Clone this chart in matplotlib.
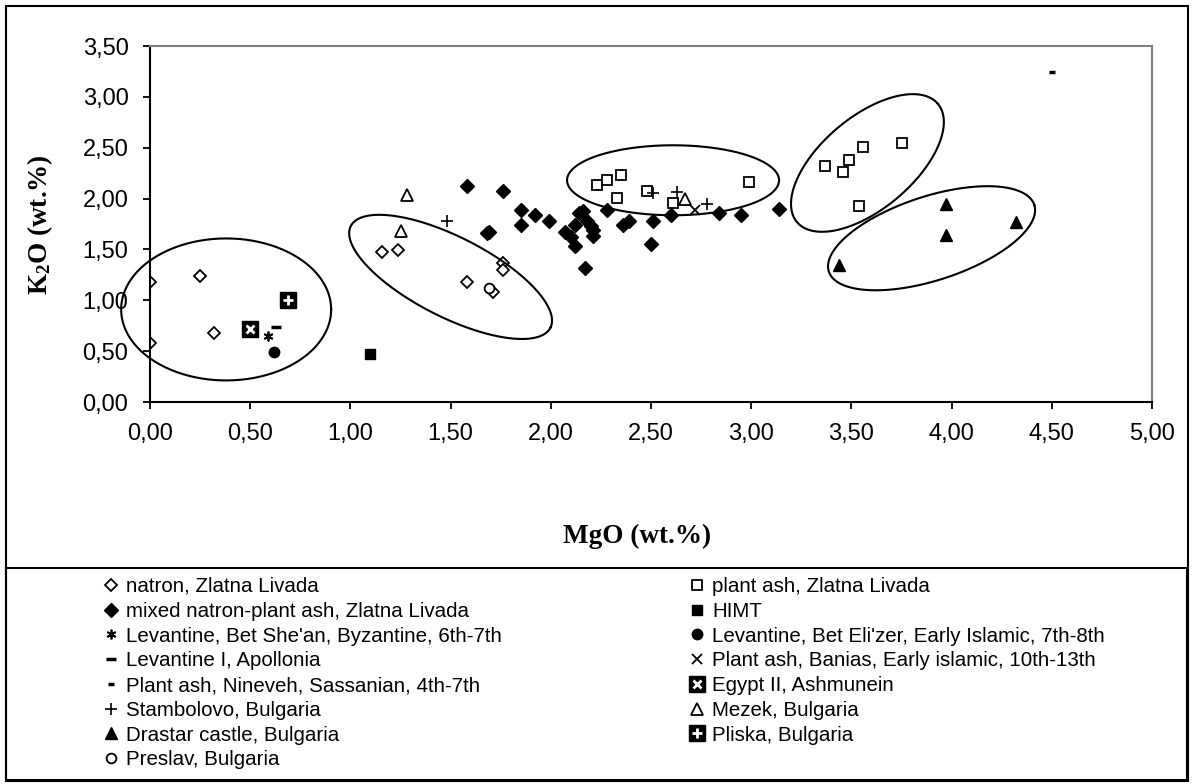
import numpy as np
import matplotlib.pyplot as plt
from matplotlib.patches import Rectangle

plt.rcParams['font.family'] = ['Liberation Sans', 'DejaVu Sans']
plt.rcParams['mathtext.fontset'] = 'custom'
plt.rcParams['mathtext.rm'] = 'Liberation Serif'
plt.rcParams['mathtext.bf'] = 'Liberation Serif:bold'

# MgO / K2O values (wt.%)
natron_mgo = [0.00, 0.00, 0.25, 0.32, 1.16, 1.24, 1.58, 1.76, 1.76, 1.71]
natron_k2o = [1.18, 0.58, 1.24, 0.68, 1.47, 1.49, 1.18, 1.37, 1.30, 1.08]

plant_mgo = [2.23, 2.28, 2.35, 2.33, 2.48, 2.61, 2.99, 3.37, 3.46, 3.49, 3.56, 3.75, 3.54]
plant_k2o = [2.13, 2.18, 2.23, 2.01, 2.07, 1.96, 2.16, 2.32, 2.26, 2.38, 2.51, 2.55, 1.93]

mixed_mgo = [1.58, 1.76, 1.85, 1.92, 1.99, 1.85, 1.68, 1.69, 2.14, 2.16, 2.12, 2.07,
             2.10, 2.12, 2.18, 2.20, 2.21, 2.21, 2.17, 2.28, 2.36, 2.39, 2.51, 2.50,
             2.60, 2.84, 2.95, 3.14]
mixed_k2o = [2.12, 2.07, 1.89, 1.84, 1.78, 1.74, 1.66, 1.67, 1.86, 1.88, 1.74, 1.67,
             1.62, 1.53, 1.78, 1.73, 1.69, 1.63, 1.32, 1.89, 1.74, 1.78, 1.78, 1.55,
             1.84, 1.86, 1.84, 1.90]

himt_mgo, himt_k2o = [1.10], [0.47]
betshean_mgo, betshean_k2o = [0.59], [0.65]
betelizer_mgo, betelizer_k2o = [0.62], [0.49]
apollonia_mgo, apollonia_k2o = [0.63], [0.74]
banias_mgo, banias_k2o = [2.72], [1.89]
nineveh_mgo, nineveh_k2o = [4.50], [3.24]
egypt_mgo, egypt_k2o = [0.50], [0.72]
stamb_mgo = [1.48, 2.51, 2.63, 2.78]
stamb_k2o = [1.78, 2.05, 2.06, 1.95]
mezek_mgo = [1.28, 1.25, 2.67]
mezek_k2o = [2.04, 1.68, 2.00]
drastar_mgo = [3.44, 3.97, 3.97, 4.32]
drastar_k2o = [1.35, 1.95, 1.64, 1.77]
pliska_mgo, pliska_k2o = [0.69], [1.00]
preslav_mgo, preslav_k2o = [1.69], [1.12]

# group outlines: centre (data), semi-axes (px), tilt (deg)
ell_cx = [0.38, 1.50, 2.61, 3.58, 3.90]
ell_cy = [0.91, 1.23, 2.18, 2.35, 1.61]
ell_a = [105, 112, 106, 92, 108]
ell_b = [71, 40, 35, 46, 42]
ell_ang = [0, -27, 0, 40, 18]

W, H = 1194, 784
fig = plt.figure(figsize=(W / 100, H / 100), dpi=100)
ax = fig.add_axes([150 / W, 1 - 402 / H, 1002 / W, 356 / H])
ax.set_xlim(0, 5)
ax.set_ylim(0, 3.5)

k = dict(color='black', linestyle='none')
h = {}
h['natron'], = ax.plot(natron_mgo, natron_k2o, marker='D', ms=6.5, mfc='white', mec='black', mew=1.3, **k)
h['plant'], = ax.plot(plant_mgo, plant_k2o, marker='s', ms=7.5, mfc='white', mec='black', mew=1.3, **k)
h['mixed'], = ax.plot(mixed_mgo, mixed_k2o, marker='D', ms=7, **k)
h['himt'], = ax.plot(himt_mgo, himt_k2o, marker='s', ms=7.5, **k)
h['betshean'], = ax.plot(betshean_mgo, betshean_k2o, marker=(6, 2, 0), ms=7, mew=1.3, **k)
h['betelizer'], = ax.plot(betelizer_mgo, betelizer_k2o, marker='o', ms=7.5, **k)
h['apollonia'], = ax.plot(apollonia_mgo, apollonia_k2o, marker='_', ms=7, mew=2.5, **k)
h['banias'], = ax.plot(banias_mgo, banias_k2o, marker='x', ms=6.5, mew=1.3, **k)
h['nineveh'], = ax.plot(nineveh_mgo, nineveh_k2o, marker='_', ms=5, mew=2.5, **k)
e1, = ax.plot(egypt_mgo, egypt_k2o, marker='s', ms=12, **k)
e2, = ax.plot(egypt_mgo, egypt_k2o, marker='x', ms=6, mew=2, color='white', linestyle='none')
h['egypt'] = (e1, e2)
h['stamb'], = ax.plot(stamb_mgo, stamb_k2o, marker='+', ms=8, mew=1.2, **k)
h['mezek'], = ax.plot(mezek_mgo, mezek_k2o, marker='^', ms=8, mfc='white', mec='black', mew=1.3, **k)
h['drastar'], = ax.plot(drastar_mgo, drastar_k2o, marker='^', ms=8.5, **k)
p1, = ax.plot(pliska_mgo, pliska_k2o, marker='s', ms=12, **k)
p2, = ax.plot(pliska_mgo, pliska_k2o, marker='+', ms=7, mew=2, color='white', linestyle='none')
h['pliska'] = (p1, p2)
h['preslav'], = ax.plot(preslav_mgo, preslav_k2o, marker='o', ms=7, mfc='white', mec='black', mew=1.3, **k)

# ellipses drawn in pixel geometry, converted to data units
sx = 1002 / 5.0
sy = 356 / 3.5
t = np.linspace(0, 2 * np.pi, 300)
for cx, cy, a, b, ang in zip(ell_cx, ell_cy, ell_a, ell_b, ell_ang):
    r = np.radians(ang)
    px = a * np.cos(t) * np.cos(r) - b * np.sin(t) * np.sin(r)
    py = a * np.cos(t) * np.sin(r) + b * np.sin(t) * np.cos(r)
    ax.plot(cx + px / sx, cy + py / sy, color='black', lw=1.5, clip_on=False)

ax.set_xticks(np.arange(0, 5.01, 0.5))
ax.set_yticks(np.arange(0, 3.51, 0.5))
ax.set_xticklabels([f'{v:.2f}'.replace('.', ',') for v in np.arange(0, 5.01, 0.5)])
ax.set_yticklabels([f'{v:.2f}'.replace('.', ',') for v in np.arange(0, 3.51, 0.5)])
ax.tick_params(direction='out', length=5, width=1.3, labelsize=17)
ax.tick_params(axis='y', pad=10.5)
ax.tick_params(axis='x', pad=10)
for s in ['left', 'bottom']:
    ax.spines[s].set_linewidth(1.5)
for s in ['top', 'right']:
    ax.spines[s].set_color('#808080')
    ax.spines[s].set_linewidth(1.5)

fig.text(637 / W, 1 - 536 / H, 'MgO (wt.%)', ha='center', va='center',
         family='Liberation Serif', weight='bold', fontsize=19.5)
fig.text(40 / W, 1 - 225 / H, r'$\mathbf{K_2O}$ (wt.%)', ha='center', va='center',
         rotation=90, family='Liberation Serif', weight='bold', fontsize=19.5)

# outer chart border and legend box
fig.patches.append(Rectangle((6 / W, 1 - 781 / H), 1182 / W, 775 / H, transform=fig.transFigure,
                             fill=False, ec='black', lw=1.5))
fig.patches.append(Rectangle((6 / W, 1 - 780 / H), 1181 / W, 212 / H, transform=fig.transFigure,
                             fill=False, ec='black', lw=1.5))

col1 = [('natron', 'natron, Zlatna Livada'),
        ('mixed', 'mixed natron-plant ash, Zlatna Livada'),
        ('betshean', "Levantine, Bet She'an, Byzantine, 6th-7th"),
        ('apollonia', 'Levantine I, Apollonia'),
        ('nineveh', 'Plant ash, Nineveh, Sassanian, 4th-7th'),
        ('stamb', 'Stambolovo, Bulgaria'),
        ('drastar', 'Drastar castle, Bulgaria'),
        ('preslav', 'Preslav, Bulgaria')]
col2 = [('plant', 'plant ash, Zlatna Livada'),
        ('himt', 'HIMT'),
        ('betelizer', "Levantine, Bet Eli'zer, Early Islamic, 7th-8th"),
        ('banias', 'Plant ash, Banias, Early islamic, 10th-13th'),
        ('egypt', 'Egypt II, Ashmunein'),
        ('mezek', 'Mezek, Bulgaria'),
        ('pliska', 'Pliska, Bulgaria')]
for items, x0 in [(col1, 102), (col2, 688)]:
    fig.legend([h[key] for key, _ in items], [lab for _, lab in items],
               loc='upper left', bbox_to_anchor=(x0 / W, 1 - 577 / H), frameon=False,
               fontsize=14.8, handlelength=0.9, handletextpad=0.28, labelspacing=0.28,
               borderpad=0, borderaxespad=0)

fig.savefig('out.png', dpi=100)
